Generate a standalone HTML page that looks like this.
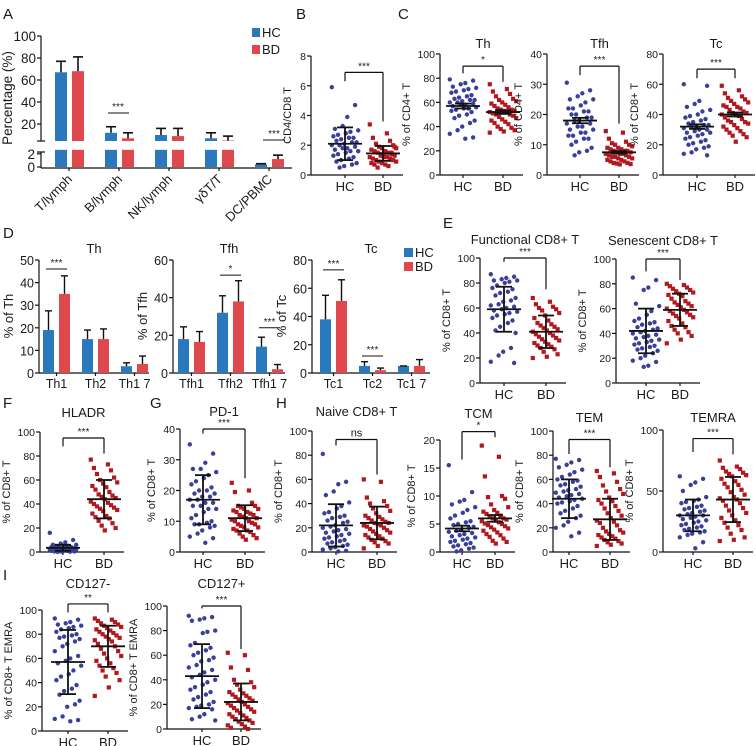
<!DOCTYPE html>
<html><head><meta charset="utf-8"><style>
body{margin:0;background:#fff}
svg{display:block;font-family:"Liberation Sans",Arial,sans-serif}
</style></head><body>
<svg id="fig" width="756" height="746" viewBox="0 0 756 746" xmlns="http://www.w3.org/2000/svg"></svg>
<script>
// ---------- Panel A data ----------
const aCats=["T/lymph","B/lymph","NK/lymph","γδT/T","DC/PBMC"];
const aHC=[67,12,10,7,0.4];
const aHCerr=[10,5.5,6,5,0.1];
const aBD=[68,7,9,5,1.2];
const aBDerr=[13,5,7,4,0.6];
// ---------- Panel D data ----------
const dThCats=["Th1","Th2","Th1 7"];
const dThHC=[19,15,3];const dThHCerr=[8.5,4,1.5];
const dThBD=[35,15,4];const dThBDerr=[8,4.5,3.5];
const dTfhCats=["Tfh1","Tfh2","Tfh1 7"];
const dTfhHC=[18,32,14];const dTfhHCerr=[6.5,9,5];
const dTfhBD=[16.5,38,2];const dTfhBDerr=[5.5,11,2.5];
const dTcCats=["Tc1","Tc2","Tc1 7"];
const dTcHC=[38,5,5];const dTcHCerr=[17,3,0];
const dTcBD=[51,2,5];const dTcBDerr=[15,1.5,4.5];
// ---------- Scatter data ----------
const bHC=[5.9,4.7,3.9,3.3,3.1,3.0,2.9,2.8,2.7,2.6,2.5,2.5,2.4,2.3,2.2,2.2,2.1,2.0,2.0,1.9,1.8,1.8,1.7,1.6,1.6,1.5,1.4,1.3,1.2,1.1,1.0,0.9,0.8,0.7,0.6,0.5];
const bBD=[3.4,2.8,2.5,2.3,2.1,2.0,1.9,1.8,1.8,1.7,1.6,1.6,1.5,1.5,1.4,1.4,1.3,1.3,1.2,1.2,1.1,1.1,1.0,1.0,0.9,0.9,0.8,0.8,0.7,0.7,0.6,0.5,1.5,1.3,1.9,1.2];
const bStats=[[2.1,1.1],[1.45,0.5]];
const thHC=[79,78,76,75,73,72,71,70,69,68,66,65,64,63,62,62,61,60,60,59,58,58,57,56,55,55,54,53,52,50,49,47,45,43,40,37,34,31,30];
const thBD=[75,71,69,67,65,63,62,61,60,59,58,57,56,55,54,54,53,53,52,52,51,50,50,49,48,47,46,45,44,43,42,40,39,38,37,36,35];
const thStats=[[57,2],[52,1.5]];
const tfhHC=[30.5,28,27,26,25,25,24,23,22,22,21,21,20,20,19,19,18,18,17,17,16,16,15,15,14,14,13,13,12,12,11,10,9,8,7.5,6.5];
const tfhBD=[14.5,14,12,11,10.5,10,10,9.5,9,9,8.5,8.5,8,8,8,7.5,7.5,7,7,7,6.5,6.5,6,6,6,5.5,5.5,5,5,4.5,4.5,4,4,3.8,3.6,3.5];
const tfhStats=[[18,0.9],[7.5,0.4]];
const tcHC=[60,59,49,47,45,43,42,40,39,38,37,36,35,34,33,33,32,32,31,30,30,29,28,28,27,26,25,24,23,22,21,20,19,18,17,15,14,13];
const tcBD=[59,56,54,52,51,50,49,48,47,46,45,45,44,43,42,41,41,40,40,39,38,37,36,35,35,34,33,32,31,30,29,28,27,26,25,22];
const tcStats=[[32,1.5],[40,1.3]];
const funHC=[87,85,84,83,82,82,81,80,78,76,75,73,72,70,68,66,65,63,62,61,60,59,58,57,56,55,54,52,50,48,45,42,40,28,25,22,17,16];
const funBD=[68,65,63,61,60,59,58,56,54,52,50,48,47,46,45,44,43,42,41,40,39,38,37,36,35,34,33,32,31,30,29,28,27,25,23,21,20];
const funStats=[[59,18],[41,13]];
const senHC=[85,83,77,75,64,62,58,55,52,50,49,48,47,45,44,43,42,41,40,39,38,37,36,35,34,33,32,31,30,29,28,27,26,24,22,20,18,17,14,13];
const senBD=[80,79,78,77,76,75,74,73,72,71,70,68,66,65,64,63,62,61,60,59,58,57,56,55,54,53,52,50,48,46,45,43,41,40,38,35,32];
const senStats=[[42,18],[59,13]];
const hlaHC=[16,10,8,7,6,6,5,5,5,4,4,4,4,3,3,3,3,3,2,2,2,2,2,2,1,1,1,1,1,1,0.5,0.5,0.5,0.3,0.2,0.1];
const hlaBD=[77,73,70,68,65,62,60,58,57,55,54,52,50,48,47,46,45,44,42,41,40,39,38,37,36,35,34,32,30,29,28,26,24,22,20,18];
const hlaStats=[[3.5,2.5],[44,16]];
const pdHC=[35,32,29,27,27,26,25,24,23,22,21,20,20,19,19,18,18,17,17,16,16,15,15,14,14,13,12,11,10,9.5,9,9,8.5,8,7,6,5,4.5,3];
const pdBD=[22.5,20,19.5,16,15,15,14.5,14,14,13.5,13,13,12.5,12,12,11.5,11,11,10.5,10,10,9.5,9,9,8.5,8,8,7.5,7,7,6.5,6,5.5,5,4.5,4];
const pdStats=[[17,8],[11,4.2]];
const naHC=[81,58,56,50,47,41,38,36,33,32,30,29,28,26,25,24,22,21,20,19,18,17,16,15,14,13,12,11,10,9,8,7,6,5,4,3,2,1,0.5];
const naBD=[60,58,45,42,40,38,36,34,32,30,29,28,27,26,25,24,24,23,22,22,21,20,19,18,17,16,15,14,13,12,11,10,9,8,7,5,3];
const naStats=[[22,17.5],[24,13.5]];
const tcmHC=[15.5,10.7,9.3,9,8.5,8,7.5,7,6.5,6,5.5,5.3,5,4.8,4.5,4.3,4,3.8,3.6,3.4,3.2,3,2.8,2.6,2.4,2.2,2,1.8,1.6,1.4,1.2,1,0.8,0.6,0.3,0.1];
const tcmBD=[19,17,13.5,10,9.8,9.5,8.5,8,7.5,7.2,7,6.8,6.5,6.3,6,6,5.8,5.6,5.5,5.3,5.1,5,4.8,4.6,4.4,4.2,4,3.8,3.5,3.2,3,2.7,2.4,2,1.8,1.5];
const tcmStats=[[4.2,0.5],[6,0.6]];
const temHC=[77,76,74,72,70,68,66,64,62,60,59,58,56,55,54,52,51,50,49,48,47,46,45,44,43,42,41,40,38,36,34,32,30,28,25,22,20,16,13];
const temBD=[67,65,62,58,55,52,50,48,45,43,42,40,38,36,34,32,30,28,26,25,24,22,20,18,17,16,15,14,13,12,11,10,9,8,7,6,5];
const temStats=[[44,16],[27,17]];
const temraHC=[62,60,57,55,50,45,43,42,41,40,38,37,36,35,34,33,32,31,30,30,29,28,27,26,25,24,23,22,21,20,19,18,17,16,15,14,12,8,3];
const temraBD=[75,70,69,68,66,65,64,63,62,60,58,56,55,53,51,49,47,45,44,43,42,40,38,36,34,32,30,28,26,24,22,20,18,15,12,10,9];
const temraStats=[[30,13],[43,18.5]];
const c127mHC=[93,92,90,89,88,87,86,85,84,82,80,79,78,77,76,74,72,70,66,62,60,58,56,54,50,47,45,42,38,35,33,30,25,22,20,12,10,9,8];
const c127mBD=[93,92,91,90,89,88,87,86,85,84,83,82,81,80,79,78,77,76,75,74,72,70,68,66,64,62,60,58,56,54,52,50,48,45,42,36,29];
const c127mStats=[[57,26.5],[70,17]];
const c127pHC=[92,91,90,89,88,80,79,78,70,68,66,64,62,60,58,56,55,52,50,48,46,44,42,40,38,36,34,32,30,28,26,24,22,20,19,18,17,16,12,10,8,7];
const c127pBD=[62,60,50,48,40,38,36,34,32,30,29,28,27,26,25,24,23,22,21,20,19,18,17,16,15,14,13,12,11,10,9,8,7,6,5,4,3,2,1,0];
const c127pStats=[[43,26],[22,15]];

const NS="http://www.w3.org/2000/svg";
const svg=document.getElementById('fig');
const BLUE="#2b79bd",RED="#df484c",NAVY="#3a3f98",DRED="#b2191f";
function el(tag,attrs,parent){const e=document.createElementNS(NS,tag);for(const k in attrs)e.setAttribute(k,attrs[k]);(parent||svg).appendChild(e);return e;}
function txt(x,y,s,size,anchor,parent,extra){const t=el('text',Object.assign({x:x,y:y,'font-size':size,'text-anchor':anchor||'start',fill:'#1a1a1a'},extra||{}),parent);t.textContent=s;return t;}
function line(x1,y1,x2,y2,w,parent){return el('line',{x1:x1,y1:y1,x2:x2,y2:y2,stroke:'#111','stroke-width':w||1.2},parent);}

// panel letters
[["A",3,19],["B",296,19],["C",398,19],["D",3,238],["E",443,228],["F",3,408],["G",150,408],["H",276,408],["I",3,580]].forEach(p=>{
  const t=txt(p[1],p[2],p[0],15,'start');
  
  
});

// ---------- Panel A ----------
(function(){
  const g=el('g',{});
  
  
  const ax=41, topY=(v)=>124-(v-20)*1.1, botY=(v)=>167-v*6.6;
  const topBase=141;
  function yv(v){return v>3.5?topY(v):botY(v);}
  line(ax,36,ax,141,1.2,g);line(ax,152,ax,168,1.2,g);
  line(ax-4,141,ax+4,141,1.2,g);line(ax-4,152,ax+4,152,1.2,g);
  [20,40,60,80,100].forEach(v=>{line(ax-4,topY(v),ax,topY(v),1.2,g);txt(ax-5,topY(v)+5,String(v),13.5,'end',g);});
  [0,2].forEach(v=>{line(ax-4,botY(v),ax,botY(v),1.2,g);txt(ax-6,botY(v)+5,String(v),13.5,'end',g);});
  line(ax,168,292,168,1.2,g);
  const yt=txt(0,0,"Percentage (%)",13.5,'middle',g,{transform:'translate(12,98) rotate(-90)'});
  
  function bar(x,v,err,col,name){
    const bb=el('g',{},g);
    
    
    const w=12;
    if(v>2.6){
      el('rect',{x:x,y:botY(2.6),width:w,height:167-botY(2.6),fill:col},bb);
      el('rect',{x:x,y:topY(v),width:w,height:topBase-topY(v),fill:col},bb);
    } else el('rect',{x:x,y:botY(v),width:w,height:167-botY(v),fill:col},bb);
    const ye=yv(v+err), y1=yv(v);
    line(x+w/2,y1,x+w/2,ye,1.6,bb);line(x+1,ye,x+w-1,ye,1.6,bb);
  }
  aCats.forEach((c,i)=>{
    const hx=55+50*i;
    bar(hx,aHC[i],aHCerr[i],BLUE,'bar-hc-'+i);
    bar(hx+17,aBD[i],aBDerr[i],RED,'bar-bd-'+i);
    const cx=hx+14;
    line(cx,168,cx,171,1.2,g);
    const t=txt(0,0,c,13,'end',g,{transform:`translate(${cx+4},${180}) rotate(-45)`});
    
  });
  line(108,113,129,113,1,g);txt(118,110,"***",10,'middle',g);
  line(263,140,285,140,1,g);txt(274,137,"***",10,'middle',g);
  el('rect',{x:252,y:28,width:8,height:9,fill:BLUE},g);txt(262,37,"HC",13,'start',g);
  el('rect',{x:252,y:45,width:8,height:9,fill:RED},g);txt(262,54,"BD",13,'start',g);
})();

// ---------- Panel D ----------
function barPanel(cfg){
  const g=el('g',{});
  
  
  const y0=373,yt=260,sc=(y0-yt)/cfg.max;const Y=v=>y0-v*sc;
  line(cfg.ax,yt,cfg.ax,y0,1.2,g);line(cfg.ax,y0,cfg.ax+cfg.len,y0,1.2,g);
  cfg.ticks.forEach(v=>{line(cfg.ax-4,Y(v),cfg.ax,Y(v),1.2,g);txt(cfg.ax-5,Y(v)+5,String(v),12.5,'end',g);});
  txt(0,0,cfg.ylabel,13,'middle',g,{transform:`translate(${cfg.ax-26},${316}) rotate(-90)`});
  txt(cfg.ax+cfg.len/2,253,cfg.title,13,'middle',g);
  cfg.cats.forEach((c,i)=>{
    const hx=cfg.ax+cfg.off+39*i;
    [[cfg.hc,cfg.hcE,BLUE,hx,'hc'],[cfg.bd,cfg.bdE,RED,hx+16,'bd']].forEach(s=>{
      const v=s[0][i],e=s[1][i],x=s[3];
      const r=el('rect',{x:x,y:Y(v),width:11,height:y0-Y(v),fill:s[2]},g);
      
      line(x+5.5,Y(v),x+5.5,Y(v+e),1.4,g);line(x+2,Y(v+e),x+9,Y(v+e),1.4,g);
    });
    line(hx+13.5,y0,hx+13.5,y0+3,1.2,g);
    txt(hx+13.5,388,c,12.5,'middle',g);
  });
  (cfg.sig||[]).forEach(s=>{const hx=cfg.ax+cfg.off+39*s[0];line(hx+3,Y(s[1]),hx+24,Y(s[1]),1,g);txt(hx+13.5,Y(s[1])-3,s[2],10,'middle',g);});
}
barPanel({name:'panel-d-th',ax:39,off:4,len:110,max:50,ticks:[0,10,20,30,40,50],ylabel:'% of Th',title:'Th',cats:dThCats,hc:dThHC,hcE:dThHCerr,bd:dThBD,bdE:dThBDerr,sig:[[0,46,'***']]});
barPanel({name:'panel-d-tfh',ax:173,off:5,len:112,max:60,ticks:[0,20,40,60],ylabel:'% of Tfh',title:'Tfh',cats:dTfhCats,hc:dTfhHC,hcE:dTfhHCerr,bd:dTfhBD,bdE:dTfhBDerr,sig:[[1,52,'*'],[2,24,'***']]});
barPanel({name:'panel-d-tc',ax:312,off:8,len:118,max:80,ticks:[0,20,40,60,80],ylabel:'% of Tc',title:'Tc',cats:dTcCats,hc:dTcHC,hcE:dTcHCerr,bd:dTcBD,bdE:dTcBDerr,sig:[[0,73,'***'],[1,12,'***']]});
el('rect',{x:404,y:248,width:9,height:9,fill:BLUE});txt(415,257,"HC",13,'start');
el('rect',{x:404,y:262,width:9,height:9,fill:RED});txt(415,271,"BD",13,'start');

// ---------- scatter panels ----------
function scatter(c){
  const g=el('g',{});
  
  
  const sc=(c.y0-c.yt)/c.max;const Y=v=>c.y0-v*sc;
  line(c.ax,c.yt,c.ax,c.y0,1.2,g);line(c.ax,c.y0,c.bx+20,c.y0,1.2,g);
  c.ticks.forEach(v=>{line(c.ax-4,Y(v),c.ax,Y(v),1.2,g);txt(c.ax-5,Y(v)+4,String(v),c.fs||10.5,'end',g);});
  line(c.hx,c.y0,c.hx,c.y0+3,1.2,g);line(c.bx,c.y0,c.bx,c.y0+3,1.2,g);
  txt(c.hx,c.y0+16,'HC',13,'middle',g);txt(c.bx,c.y0+16,'BD',13,'middle',g);
  if(c.title)txt((c.hx+c.bx)/2,c.yt-(c.tOff||6),c.title,13,'middle',g);
  txt(0,0,c.ylabel,11,'middle',g,{transform:`translate(${c.ax-c.ylOff},${(c.y0+c.yt)/2}) rotate(-90)`});
  c.hc.forEach((v,i)=>{const o=((i*7)%9-4)*3.1+((i%2)?0.8:-0.8);const p=el('circle',{cx:c.hx+o,cy:Y(v),r:2.2,fill:NAVY},g);});
  c.bd.forEach((v,i)=>{const o=((i*5)%9-4)*3.1+((i%2)?0.8:-0.8);const p=el('rect',{x:c.bx+o-2.1,y:Y(v)-2.1,width:4.2,height:4.2,fill:DRED},g);});
  [[c.hx,c.st[0]],[c.bx,c.st[1]]].forEach(s=>{
    const x=s[0],m=s[1][0],e=s[1][1];
    line(x-17,Y(m),x+17,Y(m),1.8,g);
    line(x,Y(Math.max(m-e,0)),x,Y(m+e),1.8,g);
    line(x-8,Y(m+e),x+8,Y(m+e),1.8,g);line(x-8,Y(Math.max(m-e,0)),x+8,Y(Math.max(m-e,0)),1.8,g);
  });
  const br=c.br;
  line(c.hx,Y(br[0]),c.bx,Y(br[0]),1.2,g);line(c.hx,Y(br[0]),c.hx,Y(br[1]),1.2,g);line(c.bx,Y(br[0]),c.bx,Y(br[2]),1.2,g);
  txt((c.hx+c.bx)/2,Y(br[0])-3,br[3],br[3]==='ns'?11:10,'middle',g);
}
const CD8='% of  CD8+ T',CD4='% of  CD4+ T';
scatter({name:'panel-b-cd4-cd8',ax:311,y0:175,yt:56,max:8,ticks:[0,2,4,6,8],hx:345,bx:383,ylabel:'CD4/CD8 T',ylOff:20,hc:bHC,bd:bBD,st:bStats,br:[6.9,6.3,3.6,'***']});
scatter({name:'panel-c-th',ax:440,y0:175,yt:54,max:100,ticks:[0,20,40,60,80,100],hx:463,bx:503,ylabel:CD4,ylOff:30,title:'Th',hc:thHC,bd:thBD,st:thStats,br:[90,84,77,'*']});
scatter({name:'panel-c-tfh',ax:547,y0:175,yt:54,max:40,ticks:[0,10,20,30,40],hx:580,bx:619,ylabel:CD4,ylOff:25,title:'Tfh',hc:tfhHC,bd:tfhBD,st:tfhStats,br:[36,33,17,'***']});
scatter({name:'panel-c-tc',ax:663,y0:175,yt:54,max:80,ticks:[0,20,40,60,80],hx:697,bx:735,ylabel:'% of  CD8+ T',ylOff:25,title:'Tc',hc:tcHC,bd:tcBD,st:tcStats,br:[70,64,64,'***']});
scatter({name:'panel-e-functional',ax:480,y0:383,yt:258,max:100,ticks:[0,20,40,60,80,100],hx:504,bx:546,ylabel:CD8,ylOff:30,title:'Functional CD8+ T',tOff:14,hc:funHC,bd:funBD,st:funStats,br:[100,97,75,'***']});
scatter({name:'panel-e-senescent',ax:616,y0:383,yt:259,max:100,ticks:[0,20,40,60,80,100],hx:646,bx:680,ylabel:CD8,ylOff:30,title:'Senescent CD8+ T',tOff:14,hc:senHC,bd:senBD,st:senStats,br:[100,90,83,'***']});
scatter({name:'panel-f-hladr',ax:40,y0:552,yt:432,max:100,ticks:[0,20,40,60,80,100],hx:63,bx:104,ylabel:CD8,ylOff:30,title:'HLADR',tOff:15,hc:hlaHC,bd:hlaBD,st:hlaStats,br:[95,88,82,'***']});
scatter({name:'panel-g-pd1',ax:180,y0:552,yt:429,max:40,ticks:[0,10,20,30,40],hx:203,bx:245,ylabel:CD8,ylOff:25,title:'PD-1',tOff:13,hc:pdHC,bd:pdBD,st:pdStats,br:[40,38.5,24,'***']});
scatter({name:'panel-h-naive',ax:312,y0:552,yt:431,max:100,ticks:[0,20,40,60,80,100],hx:336,bx:377,ylabel:CD8,ylOff:30,title:'Naive CD8+ T',tOff:15,hc:naHC,bd:naBD,st:naStats,br:[93,88,64,'ns']});
scatter({name:'panel-h-tcm',ax:440,y0:552,yt:440,max:20,ticks:[0,5,10,15,20],hx:462,bx:495,ylabel:CD8,ylOff:25,title:'TCM',tOff:22,hc:tcmHC,bd:tcmBD,st:tcmStats,br:[21.5,16.5,20.5,'*']});
scatter({name:'panel-h-tem',ax:553,y0:552,yt:431,max:100,ticks:[0,20,40,60,80,100],hx:569,bx:610,ylabel:CD8,ylOff:30,title:'TEM',tOff:9,hc:temHC,bd:temBD,st:temStats,br:[93,81,70,'***']});
scatter({name:'panel-h-temra',ax:663,y0:552,yt:430,max:100,ticks:[0,50,100],hx:693,bx:733,ylabel:CD8,ylOff:30,title:'TEMRA',tOff:8,hc:temraHC,bd:temraBD,st:temraStats,br:[93,82,80,'***']});
scatter({name:'panel-i-cd127-neg',ax:42,y0:731,yt:610,max:100,ticks:[0,20,40,60,80,100],hx:68,bx:108,ylabel:'% of  CD8+ T EMRA',ylOff:30,title:'CD127-',tOff:22,hc:c127mHC,bd:c127mBD,st:c127mStats,br:[105,98,98,'**']});
scatter({name:'panel-i-cd127-pos',ax:167,y0:729,yt:606,max:100,ticks:[0,20,40,60,80,100],hx:202,bx:241,ylabel:'% of  CD8+ T EMRA',ylOff:30,title:'CD127+',tOff:18,hc:c127pHC,bd:c127pBD,st:c127pStats,br:[100,98,65,'***']});
</script>
</body></html>
